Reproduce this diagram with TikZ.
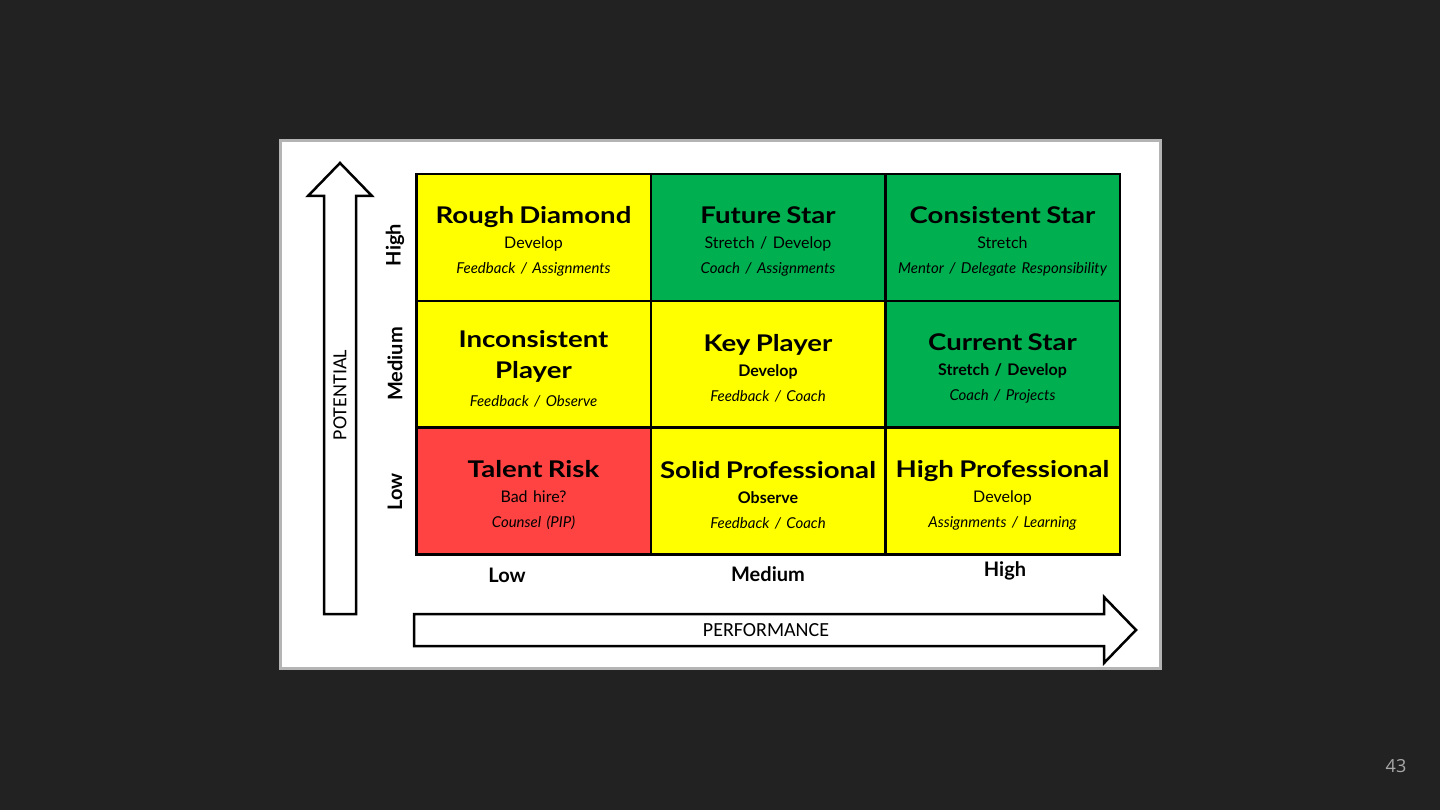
\documentclass[tikz,border=0pt]{standalone}
\usepackage{xcolor}
\usepackage{fontspec}
\setmainfont{Lato}
\newfontfamily\titlefont[FakeStretch=1.2]{Lato}
\newfontfamily\calfont{Carlito}
\newfontfamily\pagefont{Open Sans}
\usepackage{tikz}
\usetikzlibrary{positioning,calc}

\definecolor{slidebg}{HTML}{222222}
\definecolor{panelgray}{HTML}{B4B4B4}
\definecolor{boxyellow}{HTML}{FFFF00}
\definecolor{boxgreen}{HTML}{00B050}
\definecolor{boxred}{HTML}{FF4343}
\definecolor{pagegray}{HTML}{A8A8A8}

\newcommand{\celltitle}[1]{{\titlefont\fontsize{23}{25}\selectfont\bfseries #1}}
\newcommand{\cellsub}[1]{{\fontsize{16}{25}\selectfont #1}}
\newcommand{\cellsubb}[1]{{\fontsize{16}{25}\selectfont\bfseries #1}}
\newcommand{\cellnote}[1]{{\fontsize{15}{25}\selectfont\itshape #1}}

\begin{document}
\begin{tikzpicture}[x=1pt,y=-1pt,
    cell/.style={draw=black, line width=2.5pt, minimum width=234.5pt, minimum height=126.7pt,
        inner sep=0pt, text width=230pt, align=center, font=\fontsize{16}{25}\selectfont},
    celltext/.style={inner sep=0pt, text width=232pt, align=center, font=\fontsize{16}{25}\selectfont},
    levellbl/.style={font=\fontsize{20}{22}\selectfont\bfseries, inner sep=0pt},
    arrowlbl/.style={font=\calfont\fontsize{20}{22}\selectfont, inner sep=0pt},
    bigarrow/.style={draw=black, line width=2.5pt, fill=white, line join=miter}]

    % slide and panel
    \fill[slidebg] (0,0) rectangle (1440,810);
    \draw[panelgray, line width=3pt, fill=white] (280,141) rectangle (1160,668);

    % arrows
    \draw[bigarrow] (324,614) -- (324,196) -- (308,196) -- (340,163) -- (372,196) -- (356,196) -- (356,614) -- cycle;
    \draw[bigarrow] (414,614) -- (1104,614) -- (1104,597) -- (1136,630) -- (1104,663) -- (1104,646) -- (414,646) -- cycle;
    \node[arrowlbl, rotate=90] (potential) at (340,395) {POTENTIAL};
    \node[arrowlbl] (performance) at (766,630) {PERFORMANCE};

    % grid cells
    \node[cell, fill=boxyellow] (rough) at (533.5,237.5) {};
    \node[cell, fill=boxgreen] (future) at (768,237.5) {};
    \node[cell, fill=boxgreen] (consistent) at (1002.5,237.5) {};
    \node[cell, fill=boxyellow] (inconsistent) at (533.5,364.5) {};
    \node[cell, fill=boxyellow] (key) at (768,364.5) {};
    \node[cell, fill=boxgreen] (current) at (1002.5,364.5) {};
    \node[cell, fill=boxred] (risk) at (533.5,491) {};
    \node[cell, fill=boxyellow] (solid) at (768,491) {};
    \node[cell, fill=boxyellow] (highpro) at (1002.5,491) {};

    % cell texts
    \node[celltext, yshift=-4pt] (roughtxt) at (rough) {\celltitle{Rough Diamond}\\ \cellsub{Develop}\\ \cellnote{Feedback / Assignments}};
    \node[celltext, yshift=-4pt] (futuretxt) at (future) {\celltitle{Future Star}\\ \cellsub{Stretch / Develop}\\ \cellnote{Coach / Assignments}};
    \node[celltext, yshift=-4pt] (consistenttxt) at (consistent) {\celltitle{Consistent Star}\\ \cellsub{Stretch}\\ \cellnote{Mentor / Delegate Responsibility}};
    \node[celltext, yshift=-4pt] (inconsistenttxt) at (inconsistent) {\celltitle{Inconsistent}\\[6pt] \celltitle{Player}\\[3pt] \cellnote{Feedback / Observe}};
    \node[celltext, yshift=-4pt] (keytxt) at (key) {\celltitle{Key Player}\\ \cellsubb{Develop}\\ \cellnote{Feedback / Coach}};
    \node[celltext, yshift=-4pt] (currenttxt) at (current) {\celltitle{Current Star}\\ \cellsubb{Stretch / Develop}\\ \cellnote{Coach / Projects}};
    \node[celltext, yshift=-4pt] (risktxt) at (risk) {\celltitle{Talent Risk}\\ \cellsub{Bad hire?}\\ \cellnote{Counsel (PIP)}};
    \node[celltext, yshift=-4pt] (solidtxt) at (solid) {\celltitle{Solid Professional}\\ \cellsubb{Observe}\\ \cellnote{Feedback / Coach}};
    \node[celltext, yshift=-4pt] (highprotxt) at (highpro) {\celltitle{High Professional}\\ \cellsub{Develop}\\ \cellnote{Assignments / Learning}};

    % level labels
    \node[levellbl, rotate=90] (pothigh) at (395,245) {High};
    \node[levellbl, rotate=90] (potmed) at (395,364) {Medium};
    \node[levellbl, rotate=90] (potlow) at (395,492) {Low};
    \node[levellbl] (perflow) at (507,575) {Low};
    \node[levellbl] (perfmed) at (768,574) {Medium};
    \node[levellbl] (perfhigh) at (1005,571) {High};

    \node[font=\pagefont\fontsize{18}{20}\selectfont, text=pagegray, inner sep=0pt] (pagenum) at (1396,766) {43};
\end{tikzpicture}
\end{document}
